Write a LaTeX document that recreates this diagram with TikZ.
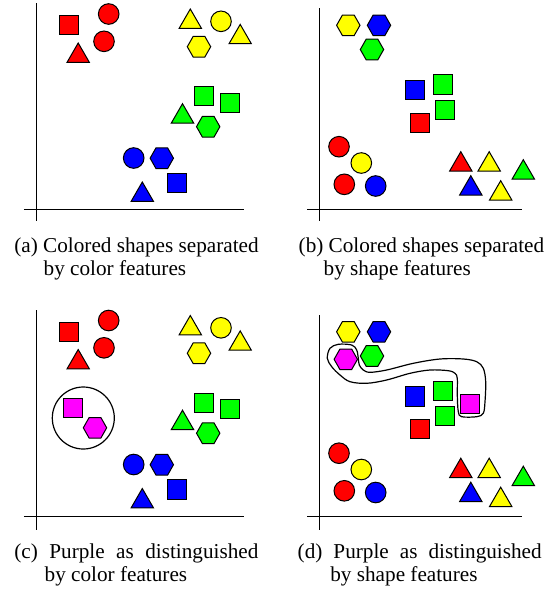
\documentclass[tikz,border=0pt]{standalone}
\usepackage{fontspec}
\setmainfont{Liberation Serif}

\definecolor{cRed}{RGB}{255,0,0}
\definecolor{cYellow}{RGB}{255,255,0}
\definecolor{cGreen}{RGB}{0,255,0}
\definecolor{cBlue}{RGB}{0,0,255}
\definecolor{cMagenta}{RGB}{255,0,255}

\tikzset{
  outl/.style={draw=black, line width=0.5pt, line join=miter},
  axisline/.style={draw=black, line width=0.6pt},
  enclose/.style={draw=black, line width=0.6pt},
  captext/.style={anchor=base west, inner sep=0pt, font=\fontsize{10.6}{13}\selectfont},
}

% square: colour, centre x, centre y
\newcommand\shSq[3]{\filldraw[outl,fill=#1] (#2-9.65,#3-9.65) rectangle (#2+9.65,#3+9.65);}
% circle: colour, centre x, centre y
\newcommand\shCirc[3]{\filldraw[outl,fill=#1] (#2,#3) circle[radius=10.3];}
% triangle: colour, centre x, base y
\newcommand\shTri[3]{\filldraw[outl,fill=#1] (#2-11.15,#3) -- (#2+11.15,#3) -- (#2,#3-19.3) -- cycle;}
% hexagon: colour, centre x, centre y
\newcommand\shHex[3]{\filldraw[outl,fill=#1] (#2-11.7,#3) -- (#2-5.85,#3-10.3) -- (#2+5.85,#3-10.3)
  -- (#2+11.7,#3) -- (#2+5.85,#3+10.3) -- (#2-5.85,#3+10.3) -- cycle;}

% groups by colour
\newcommand\colourGroups{%
  \shSq{cRed}{69}{25.2} \shCirc{cRed}{108.7}{14} \shCirc{cRed}{104}{41.3} \shTri{cRed}{78.2}{62.3}
  \shTri{cYellow}{190.3}{28.3} \shCirc{cYellow}{221}{21.3} \shTri{cYellow}{240.2}{43.7} \shHex{cYellow}{199}{46.7}
  \shSq{cGreen}{204}{96.2} \shSq{cGreen}{229.8}{102.8} \shTri{cGreen}{182.5}{123} \shHex{cGreen}{208.2}{126.7}
  \shCirc{cBlue}{133.7}{158} \shHex{cBlue}{161.8}{158.2} \shSq{cBlue}{176.7}{183} \shTri{cBlue}{142.3}{201.3}
}
% groups by shape
\newcommand\shapeGroups{%
  \shHex{cYellow}{348.3}{25.3} \shHex{cBlue}{379}{25.3} \shHex{cGreen}{372}{49.5}
  \shSq{cBlue}{415.3}{90} \shSq{cGreen}{443.3}{84.5} \shSq{cGreen}{445}{109.8} \shSq{cRed}{420}{122.7}
  \shCirc{cRed}{339}{146.7} \shCirc{cYellow}{361.3}{163} \shCirc{cRed}{344.3}{184.3} \shCirc{cBlue}{375.7}{186}
  \shTri{cRed}{460.8}{171} \shTri{cYellow}{489.2}{171} \shTri{cGreen}{523.3}{179}
  \shTri{cBlue}{470.8}{195} \shTri{cYellow}{500.7}{200}
}

\begin{document}
\begin{tikzpicture}[x=0.5pt, y=-0.5pt]
\useasboundingbox (0,0) rectangle (559,591);

% (a) colour features
\draw[axisline] (36.5,3) -- (36.5,221);
\draw[axisline] (24,209.5) -- (244,209.5);
\colourGroups
\node[captext] (capA1) at (14,252.3) {(a) Colored shapes separated};
\node[captext] (capA2) at (43.3,275.5) {by color features};

% (b) shape features
\draw[axisline] (319.5,8.3) -- (319.5,221);
\draw[axisline] (307.3,209.5) -- (522.3,209.5);
\shapeGroups
\node[captext] (capB1) at (298.3,252.3) {(b) Colored shapes separated};
\node[captext] (capB2) at (323.3,275.5) {by shape features};

% (c) purple by colour
\draw[axisline] (36.5,310) -- (36.5,530);
\draw[axisline] (24,516.5) -- (244,516.5);
\begin{scope}[shift={(0,306.5)}]
  \colourGroups
\end{scope}
\draw[enclose] (83.3,418) circle[radius=31];
\shSq{cMagenta}{73}{408}
\shHex{cMagenta}{95}{427.8}
\node[captext] (capC1) at (14,558.5) {\makebox[122pt][s]{(c) Purple as distinguished}};
\node[captext] (capC2) at (44.3,581.7) {by color features};

% (d) purple by shape
\draw[axisline] (319.5,315) -- (319.5,530);
\draw[axisline] (307.3,516.5) -- (522.3,516.5);
\begin{scope}[shift={(0,306.5)}]
  \shapeGroups
\end{scope}
\shHex{cMagenta}{345.8}{359.3}
\shSq{cMagenta}{470.3}{403.8}
\draw[enclose] plot[smooth cycle, tension=0.55] coordinates {
  (327.3,358.3) (330,348.3) (338.3,344.3) (351.7,345) (356.7,350) (358.3,358.3)
  (359.3,365) (363.3,370) (370,372.3) (386.7,370) (413.3,363.3) (440,359)
  (463.3,359) (476.7,361.7) (483.3,368.3) (485.7,381.7) (485,401.7) (483.3,413.3)
  (476.7,416.7) (461.7,416.7) (458.3,411.7) (457.3,395) (457.3,378.3) (455,373.3)
  (448.3,370.7) (430,370) (410,373.3) (386.7,380) (366.7,383.3) (350,381.7)
  (340,375) (331.7,366.7)};
\node[captext] (capD1) at (297.3,558.5) {\makebox[122pt][s]{(d) Purple as distinguished}};
\node[captext] (capD2) at (330,581.7) {by shape features};
\end{tikzpicture}
\end{document}
